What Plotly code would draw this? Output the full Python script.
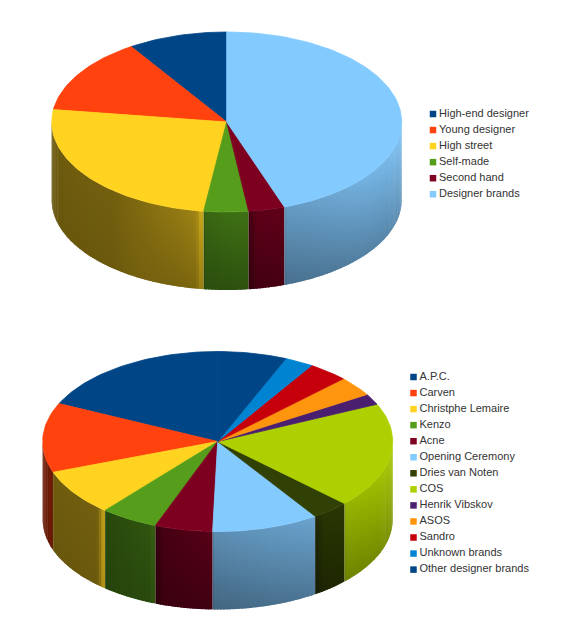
import math
import plotly.graph_objects as go

# ---------- data (legend order, running counter-clockwise from 12 o'clock) ----------
top_labels = ["High-end designer", "Young designer", "High street", "Self-made",
              "Second hand", "Designer brands"]
top_values = [9.2, 13.6, 25.1, 4.1, 3.35, 44.65]
top_colors = ["#004586", "#ff420e", "#ffd320", "#579d1c", "#7e0021", "#83caff"]

bottom_labels = ["A.P.C.", "Carven", "Christphe Lemaire", "Kenzo", "Acne", "Opening Ceremony",
                 "Dries van Noten", "COS", "Henrik Vibskov", "ASOS", "Sandro",
                 "Unknown brands", "Other designer brands"]
bottom_values = [18.08, 12.47, 8.33, 5.33, 5.33, 9.86, 3.5, 18.9, 1.94, 3.53, 3.72, 2.64, 6.37]
bottom_colors = ["#004586", "#ff420e", "#ffd320", "#579d1c", "#7e0021", "#83caff", "#314004",
                 "#aecf00", "#4b1f6f", "#ff950e", "#c5000b", "#0084d1", "#004586"]

RX, RY, DEPTH = 175.0, 90.0, 78.0
TEXT = "#333333"


def hex_rgb(c):
    return tuple(int(c[i:i + 2], 16) for i in (1, 3, 5))


def scaled(rgb, k):
    vals = [v * k for v in rgb]
    return "rgb({},{},{})".format(*[int(max(0, min(255, round(v)))) for v in vals])


def interp(stops, x):
    if x <= stops[0][0]:
        return stops[0][1]
    for (a, fa), (b, fb) in zip(stops, stops[1:]):
        if a <= x <= b:
            return fa + (fb - fa) * (x - a) / (b - a)
    return stops[-1][1]


LIGHT = [(90, 0.97), (110, 0.93), (130, 0.88), (150, 0.80), (180, 0.70), (195, 0.58),
         (220, 0.45), (270, 0.42)]
FALLOFF = [(90, 0.72), (180, 0.72), (215, 0.93), (270, 0.95)]


def point(cx, cy, theta):
    r = math.radians(theta)
    return cx + RX * math.sin(r), cy - RY * math.cos(r)


def add_pie(fig, cx, cy, labels, values, colors, lx, ly0):
    total = sum(values)
    # counter-clockwise from the top, expressed as clockwise ranges
    spans = []
    end = 360.0
    for lab, val, col in zip(labels, values, colors):
        start = end - 360.0 * val / total
        spans.append((lab, start, end, col))
        end = start

    # side walls, drawn as narrow gradient-filled strips
    for lab, a, b, col in spans:
        lo, hi = max(a, 90.0), min(b, 270.0)
        if hi <= lo:
            continue
        rgb = hex_rgb(col)
        luma = 0.3 * rgb[0] + 0.59 * rgb[1] + 0.11 * rgb[2]
        xl = point(cx, cy, hi)[0]
        xr = point(cx, cy, lo)[0]
        n = max(4, int(hi - lo))
        glow_w, glow_k = (8.0, 0.85) if luma >= 150 else (3.0, 0.72)
        # from screen-left to screen-right
        for i in range(n):
            t1 = hi - (hi - lo) * i / n
            t0 = hi - (hi - lo) * (i + 1) / n
            mid = (t0 + t1) / 2
            t1x = min(hi, t1 + 0.6)
            xm = point(cx, cy, mid)[0]
            k = interp(LIGHT, mid)
            dl, dr = xm - xl, xr - xm
            if luma < 110 and hi < 205 and dl < 10:
                k *= 0.66 + 0.34 * dl / 10
            elif luma >= 110 and hi < 200 and dl < 3:
                k *= 0.8 + 0.2 * dl / 3
            if 181 <= lo < 240 and dr < glow_w:
                k = k + (glow_k - k) * (1 - dr / glow_w) ** 2
            x0, y0 = point(cx, cy, t0)
            x1, y1 = point(cx, cy, t1x)
            fall = interp(FALLOFF, mid)
            fig.add_trace(go.Scatter(
                x=[x1, x0, x0, x1, x1], y=[y1, y0, y0 + DEPTH, y1 + DEPTH, y1],
                mode="lines", line=dict(width=0), fill="toself",
                fillgradient=dict(type="vertical",
                                  colorscale=[[0, scaled(rgb, k * fall)], [1, scaled(rgb, k)]]),
                hoverinfo="skip", showlegend=False))

    # top face
    for lab, a, b, col in spans:
        n = max(2, int((b - a) / 1.5) + 1)
        pts = [point(cx, cy, a + (b - a) * i / n) for i in range(n + 1)]
        xs = [cx] + [p[0] for p in pts] + [cx]
        ys = [cy] + [p[1] for p in pts] + [cy]
        fig.add_trace(go.Scatter(x=xs, y=ys, mode="lines", line=dict(width=0.8, color=col),
                                 fill="toself", fillcolor=col, name=lab,
                                 hoverinfo="name", showlegend=False))

    # legend, drawn as square markers and labels
    for i, (lab, col) in enumerate(zip(labels, colors)):
        y = ly0 + 16.05 * i
        fig.add_trace(go.Scatter(x=[lx], y=[y], mode="markers",
                                 marker=dict(symbol="square", size=6.5, color=col),
                                 hoverinfo="skip", showlegend=False, cliponaxis=False))
        fig.add_trace(go.Scatter(x=[lx + 6], y=[y], mode="text",
                                 text=[lab], textposition="middle right",
                                 textfont=dict(family="Liberation Sans, Arial", size=11, color=TEXT),
                                 hoverinfo="skip", showlegend=False, cliponaxis=False))


fig = go.Figure()
add_pie(fig, 226.7, 122.0, top_labels, top_values, top_colors, 433, 114)
add_pie(fig, 217.7, 441.5, bottom_labels, bottom_values, bottom_colors, 413.5, 377)

fig.update_layout(
    width=566, height=640, autosize=False, showlegend=False,
    margin=dict(l=0, r=0, t=0, b=0),
    paper_bgcolor="white", plot_bgcolor="white",
    xaxis=dict(range=[0, 566], visible=False, fixedrange=True),
    yaxis=dict(range=[640, 0], visible=False, fixedrange=True),
)
fig.write_html("out.html", config=dict(displayModeBar=False),
               post_script="document.body.style.margin='0';document.body.style.overflow='hidden';")
